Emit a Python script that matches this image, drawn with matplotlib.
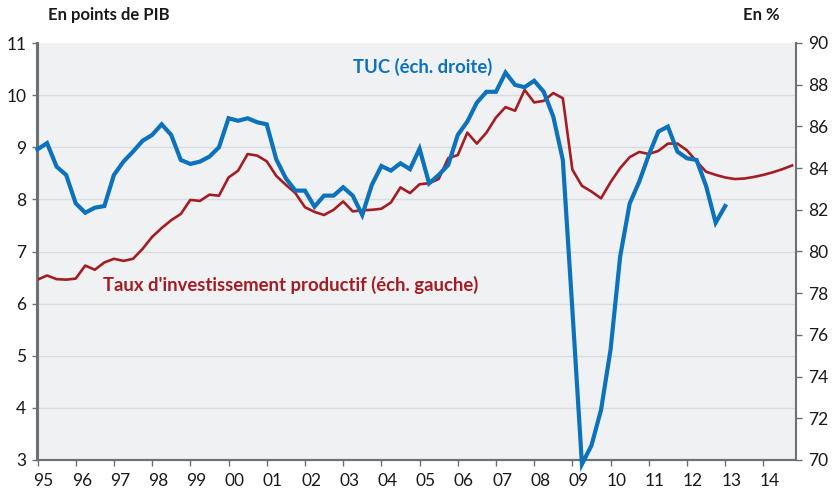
import matplotlib
matplotlib.use("Agg")
import matplotlib.pyplot as plt
import numpy as np

# Taux d'investissement productif, en points de PIB (échelle gauche), trimestriel 1995T1-2014T4
INVEST_RATE = [
    6.46, 6.54, 6.47, 6.46, 6.48, 6.73, 6.65, 6.79, 6.86, 6.82, 6.86, 7.05, 7.28, 7.45, 7.60, 7.72,
    7.99, 7.97, 8.09, 8.07, 8.42, 8.55, 8.87, 8.84, 8.73, 8.45, 8.28, 8.12, 7.85, 7.76, 7.70, 7.80,
    7.96, 7.77, 7.79, 7.80, 7.82, 7.94, 8.23, 8.12, 8.29, 8.31, 8.39, 8.79, 8.85, 9.28, 9.07, 9.28,
    9.57, 9.77, 9.70, 10.10, 9.86, 9.89, 10.04, 9.94, 8.57, 8.26, 8.15, 8.02, 8.33, 8.60, 8.81, 8.91,
    8.87, 8.93, 9.07, 9.07, 8.94, 8.73, 8.53, 8.47, 8.42, 8.39, 8.40, 8.43, 8.47, 8.52, 8.58, 8.65,
]
# Taux d'utilisation des capacités, en % (échelle droite), 1995T1-2013T1
TUC = [
    84.9, 85.2, 84.07, 83.67, 82.31, 81.86, 82.1, 82.18, 83.67, 84.31, 84.79, 85.31, 85.59, 86.10,
    85.59, 84.39, 84.20, 84.31, 84.55, 85.0, 86.39, 86.27, 86.39, 86.20, 86.10, 84.42, 83.51, 82.92,
    82.92, 82.15, 82.68, 82.68, 83.08, 82.68, 81.75, 83.19, 84.10, 83.88, 84.23, 83.95, 84.93, 83.27,
    83.67, 84.15, 85.59, 86.23, 87.14, 87.66, 87.66, 88.58, 87.99, 87.88, 88.19, 87.66, 86.47, 84.39,
    77.2, 69.8, 70.7, 72.4, 75.3, 79.75, 82.3, 83.35, 84.63, 85.75, 85.99, 84.79, 84.47, 84.39,
    83.14, 81.38, 82.18,
]
START_YEAR = 1995
YEARS = list(range(1995, 2015))
YEAR_LABELS = [f"{y % 100:02d}" for y in YEARS]
LEFT_TICKS = list(range(3, 12))
RIGHT_TICKS = list(range(70, 91, 2))

RED = "#a21d24"
BLUE = "#0b72bb"
GRID = "#d9dbde"
SPINE = "#6f7073"
TEXT = "#1a1a1a"

plt.rcParams["font.family"] = ["Lato", "DejaVu Sans"]

x_red = START_YEAR + np.arange(len(INVEST_RATE)) / 4
x_blue = START_YEAR + np.arange(len(TUC)) / 4

W, H = 833, 492
fig = plt.figure(figsize=(W / 100, H / 100), dpi=100)
left, right, bottom, top = 37.5 / W, 795.5 / W, 1 - 460 / H, 1 - 43 / H
ax = fig.add_axes([left, bottom, right - left, top - bottom])
ax.set_facecolor("#f0f1f3")
ax2 = ax.twinx()

ax.plot(x_red, INVEST_RATE, color=RED, lw=1.9, zorder=3)
ax2.plot(x_blue, TUC, color=BLUE, lw=3.0, zorder=3, clip_on=False, solid_joinstyle="miter")

ax.set_xlim(1995, 2014.84)
ax.set_ylim(3, 11)
ax2.set_ylim(70, 90)
ax.set_yticks(LEFT_TICKS)
ax2.set_yticks(RIGHT_TICKS)
for t in LEFT_TICKS[1:-1]:
    ax.axhline(t, color=GRID, lw=1.0, zorder=1)

# year ticks on the boundaries, labels shifted a little to the right
ax.set_xticks(YEARS, minor=True)
ax.set_xticks(np.array(YEARS) + 0.16)
ax.set_xticklabels(YEAR_LABELS)
ax.tick_params(axis="x", which="major", length=0, pad=9, labelsize=12.5, labelcolor=TEXT)
ax.tick_params(axis="x", which="minor", length=4, width=1, color=SPINE)
ax.tick_params(axis="y", length=4, width=1, color=SPINE, pad=4, labelsize=12.5, labelcolor=TEXT)
ax2.tick_params(axis="y", length=4, width=1, color=SPINE, pad=5, labelsize=12.5, labelcolor=TEXT)

for a in (ax, ax2):
    a.spines["top"].set_visible(False)
    for s in ("left", "right", "bottom"):
        a.spines[s].set_color(SPINE)
        a.spines[s].set_linewidth(1.5)
ax.spines["right"].set_visible(False)

fig.text(48 / W, 1 - 15 / H, "En points de PIB", fontsize=12, fontweight="bold", color=TEXT, va="center")
fig.text(743 / W, 1 - 15 / H, "En %", fontsize=12, fontweight="bold", color=TEXT, va="center")
fig.text(423 / W, 1 - 67 / H, "TUC (éch. droite)", fontsize=13.3, fontweight="bold", color=BLUE,
         ha="center", va="center")
fig.text(103 / W, 1 - 285 / H, "Taux d'investissement productif (éch. gauche)", fontsize=13.3,
         fontweight="bold", color=RED, ha="left", va="center")

fig.savefig("out.png", dpi=100)
